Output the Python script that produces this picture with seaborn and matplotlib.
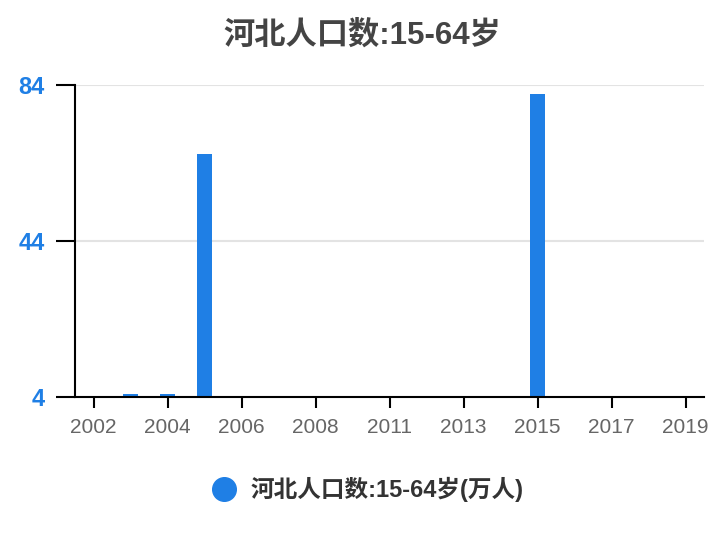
import numpy as np
import pandas as pd
import seaborn as sns
import matplotlib.pyplot as plt
from matplotlib.lines import Line2D

# data (years with no visible bar kept as NaN)
years = ["2002", "2003", "2004", "2005", "2006", "2007", "2008", "2010", "2011",
         "2012", "2013", "2014", "2015", "2016", "2017", "2018", "2019"]
values = [np.nan, 4.7, 4.7, 66.3, np.nan, np.nan, np.nan, np.nan, np.nan,
          np.nan, np.nan, np.nan, 81.7, np.nan, np.nan, np.nan, np.nan]
y_ticks = [4, 44, 84]
series_name = "河北人口数:15-64岁(万人)"
title = "河北人口数:15-64岁"

blue = "#1f7fe5"

sns.set_theme(style="white")
plt.rcParams["font.family"] = ["Liberation Sans", "Noto Sans CJK SC", "DejaVu Sans"]

df = pd.DataFrame({"year": years, "value": values})

fig = plt.figure(figsize=(7.24, 5.4), dpi=100)
ax = fig.add_axes([0.1036, 0.265, 0.8688, 0.578])

for t in y_ticks[1:]:
    ax.axhline(t, color="#e3e3e3", linewidth=1.5, zorder=0)

sns.barplot(data=df, x="year", y="value", order=years, color=blue,
            saturation=1, width=0.43, linewidth=0,
            errorbar=None, ax=ax, zorder=2)

ax.set_ylim(4, 84)
ax.set_xlim(-0.5, len(years) - 0.5)
ax.set_yticks(y_ticks)
ax.set_yticklabels([str(t) for t in y_ticks], color=blue, fontsize=17,
                   fontweight="bold")
idx = list(range(0, len(years), 2))
ax.set_xticks(idx)
ax.set_xticklabels([years[i] for i in idx], color="#666666", fontsize=15)
ax.tick_params(axis="y", length=14, width=1.5, color="black", pad=8, left=True)
ax.tick_params(axis="x", length=8, width=1.5, color="black", pad=7, bottom=True)
ax.set_xlabel("")
ax.set_ylabel("")

for s in ["top", "right"]:
    ax.spines[s].set_visible(False)
for s in ["left", "bottom"]:
    ax.spines[s].set_color("black")
    ax.spines[s].set_linewidth(1.5)

fig.suptitle(title, x=0.5, y=0.962, fontsize=22.5, fontweight="bold",
             color="#444444")

handle = Line2D([], [], marker="o", linestyle="", markersize=17,
                markerfacecolor=blue, markeredgecolor=blue)
fig.legend([handle], [series_name], loc="center", bbox_to_anchor=(0.5, 0.093),
           frameon=False, handletextpad=0.1,
           prop={"size": 17, "weight": "bold"}, labelcolor="#333333")

fig.savefig("out.png", dpi=100)
